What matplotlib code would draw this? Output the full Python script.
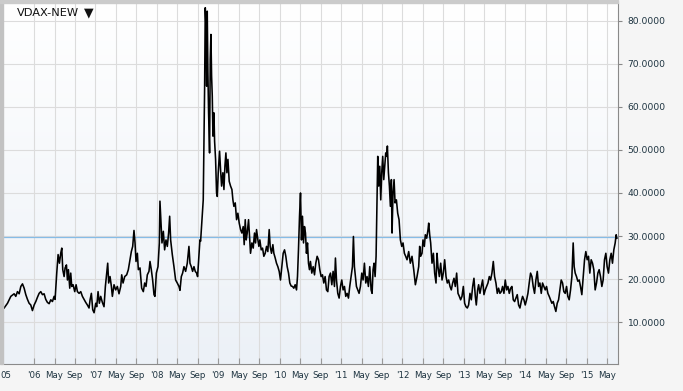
import numpy as np
import matplotlib.pyplot as plt
from matplotlib.patches import Rectangle
from matplotlib.colors import LinearSegmentedColormap

# VDAX-NEW readings (decimal year, index level)
d_2005 = [2005.512, 2005.567, 2005.621, 2005.675, 2005.702, 2005.729, 2005.757, 2005.784,
          2005.811, 2005.838, 2005.865, 2005.892, 2005.919, 2005.946, 2005.973]
v_2005 = [13.3, 14.4, 16.0, 16.6, 16.0, 17.1, 16.6, 18.3, 18.9, 17.9, 16.4, 15.3, 14.4, 14.0, 12.7]

d_2006 = [2006.001, 2006.028, 2006.055, 2006.082, 2006.109, 2006.136, 2006.163, 2006.190,
          2006.217, 2006.245, 2006.272, 2006.299, 2006.326, 2006.342, 2006.369, 2006.391,
          2006.413, 2006.434, 2006.451, 2006.467, 2006.489, 2006.505, 2006.527, 2006.543,
          2006.559, 2006.581, 2006.597, 2006.613, 2006.635, 2006.662, 2006.684, 2006.706,
          2006.733, 2006.760, 2006.787, 2006.814, 2006.841, 2006.868, 2006.895, 2006.912,
          2006.933, 2006.955, 2006.977]
v_2006 = [14.0, 14.8, 15.8, 16.7, 17.1, 16.4, 16.6, 15.3, 14.6, 14.3, 15.2, 14.8, 16.0, 15.3,
          21.4, 25.7, 23.7, 26.0, 27.2, 22.2, 20.6, 22.6, 23.3, 19.8, 22.2, 17.9, 21.4, 18.3,
          18.7, 17.1, 18.7, 17.1, 16.7, 17.1, 16.0, 15.3, 14.6, 14.0, 13.3, 15.2, 16.7, 12.9, 12.2]

d_2007 = [2007.004, 2007.020, 2007.042, 2007.063, 2007.085, 2007.112, 2007.139, 2007.161,
          2007.183, 2007.199, 2007.215, 2007.237, 2007.259, 2007.275, 2007.302, 2007.329,
          2007.356, 2007.383, 2007.411, 2007.427, 2007.449, 2007.476, 2007.508, 2007.535,
          2007.562, 2007.584, 2007.606, 2007.627, 2007.644, 2007.660, 2007.682, 2007.698,
          2007.725, 2007.752, 2007.779, 2007.801, 2007.823, 2007.844, 2007.871, 2007.888,
          2007.909, 2007.931, 2007.953, 2007.969, 2007.991]
v_2007 = [14.4, 13.6, 17.1, 14.4, 16.0, 14.6, 13.6, 18.3, 21.4, 23.7, 19.1, 20.6, 18.3, 16.0,
          18.7, 17.5, 18.3, 16.6, 18.3, 21.0, 19.1, 20.6, 21.0, 22.2, 24.5, 26.4, 27.6, 31.3,
          28.4, 24.1, 26.0, 22.2, 22.6, 17.9, 17.1, 19.1, 18.3, 21.0, 21.8, 24.1, 22.2, 19.8,
          16.4, 16.0, 21.4]

d_2008 = [2008.018, 2008.040, 2008.050, 2008.067, 2008.083, 2008.105, 2008.126, 2008.148,
          2008.170, 2008.191, 2008.208, 2008.224, 2008.251, 2008.278, 2008.305, 2008.332,
          2008.360, 2008.376, 2008.398, 2008.419, 2008.441, 2008.468, 2008.495, 2008.522,
          2008.539, 2008.560, 2008.582, 2008.604, 2008.625, 2008.647, 2008.663, 2008.685,
          2008.701, 2008.712, 2008.755, 2008.777, 2008.788, 2008.799, 2008.810, 2008.820,
          2008.831, 2008.842, 2008.858, 2008.869, 2008.880, 2008.891, 2008.902, 2008.913,
          2008.929, 2008.940, 2008.956, 2008.972, 2008.983, 2008.999]
v_2008 = [22.9, 28.4, 38.1, 33.0, 28.4, 31.1, 26.8, 29.1, 27.6, 30.7, 34.6, 29.1, 25.7, 22.9,
          19.8, 19.1, 18.3, 17.4, 20.6, 21.4, 22.9, 21.8, 23.7, 27.6, 23.7, 22.9, 21.8, 22.9,
          21.8, 21.4, 20.6, 25.3, 29.1, 28.8, 38.4, 64.0, 83.0, 78.8, 64.8, 82.2, 67.9, 58.6,
          49.3, 71.0, 76.8, 67.1, 62.5, 53.2, 58.6, 52.0, 47.8, 40.0, 39.2, 44.7]

d_2009 = [2009.021, 2009.037, 2009.054, 2009.075, 2009.092, 2009.108, 2009.124, 2009.140,
          2009.157, 2009.178, 2009.200, 2009.222, 2009.238, 2009.254, 2009.276, 2009.298,
          2009.319, 2009.341, 2009.363, 2009.384, 2009.406, 2009.422, 2009.439, 2009.455,
          2009.471, 2009.493, 2009.509, 2009.525, 2009.547, 2009.569, 2009.590, 2009.607,
          2009.623, 2009.645, 2009.661, 2009.677, 2009.699, 2009.721, 2009.742, 2009.764,
          2009.786, 2009.807, 2009.829, 2009.845, 2009.867, 2009.889, 2009.905, 2009.927,
          2009.948, 2009.970, 2009.992]
v_2009 = [49.7, 45.4, 41.6, 44.7, 40.8, 46.2, 49.3, 44.7, 47.8, 42.7, 41.6, 40.8, 38.4, 36.9,
          37.7, 33.8, 35.3, 33.0, 31.5, 30.7, 32.2, 28.0, 33.8, 29.1, 30.7, 33.8, 29.9, 26.0,
          28.4, 27.2, 30.7, 28.4, 31.5, 29.1, 27.6, 29.1, 26.8, 27.2, 25.3, 26.0, 27.6, 26.4,
          31.5, 27.6, 26.0, 28.0, 26.0, 24.9, 23.7, 22.9, 21.8]

d_2010 = [2010.013, 2010.035, 2010.057, 2010.079, 2010.100, 2010.122, 2010.144, 2010.165,
          2010.187, 2010.209, 2010.230, 2010.252, 2010.274, 2010.290, 2010.306, 2010.323,
          2010.339, 2010.355, 2010.371, 2010.388, 2010.404, 2010.420, 2010.436, 2010.453,
          2010.469, 2010.485, 2010.501, 2010.523, 2010.545, 2010.567, 2010.588, 2010.610,
          2010.632, 2010.653, 2010.675, 2010.697, 2010.718, 2010.740, 2010.762, 2010.784,
          2010.805, 2010.827, 2010.849, 2010.870, 2010.892, 2010.908, 2010.925, 2010.946,
          2010.968, 2010.990]
v_2010 = [19.8, 22.9, 26.0, 26.8, 25.3, 22.9, 21.4, 19.1, 18.4, 18.3, 17.9, 18.7, 17.5, 20.6,
          26.8, 34.6, 40.0, 29.1, 34.6, 28.4, 32.2, 30.7, 26.0, 28.4, 23.7, 22.2, 24.1, 21.4,
          22.9, 21.0, 23.7, 25.3, 24.5, 22.2, 20.6, 21.0, 19.1, 20.6, 17.5, 17.1, 20.6, 21.4,
          18.7, 21.8, 18.3, 24.9, 19.8, 16.7, 15.6, 18.3]

d_2011 = [2011.011, 2011.033, 2011.055, 2011.076, 2011.098, 2011.120, 2011.141, 2011.163,
          2011.185, 2011.201, 2011.217, 2011.234, 2011.250, 2011.272, 2011.293, 2011.315,
          2011.337, 2011.358, 2011.380, 2011.402, 2011.423, 2011.445, 2011.467, 2011.489,
          2011.505, 2011.521, 2011.537, 2011.554, 2011.570, 2011.581, 2011.597, 2011.613,
          2011.630, 2011.646, 2011.662, 2011.678, 2011.695, 2011.711, 2011.727, 2011.743,
          2011.754, 2011.771, 2011.787, 2011.803, 2011.819, 2011.830, 2011.846, 2011.863,
          2011.879, 2011.901, 2011.922, 2011.944, 2011.966, 2011.988]
v_2011 = [19.8, 17.5, 18.3, 16.0, 16.7, 15.6, 18.3, 20.6, 22.9, 29.9, 22.9, 20.6, 18.3, 17.5,
          16.7, 18.3, 21.4, 19.8, 23.7, 19.1, 20.6, 18.3, 22.9, 17.5, 16.7, 22.2, 23.7, 20.6,
          25.3, 34.6, 48.5, 41.6, 46.2, 38.4, 44.7, 48.5, 43.1, 46.2, 49.3, 48.5, 50.9, 44.7,
          41.6, 36.9, 43.1, 30.7, 40.0, 43.1, 37.7, 38.4, 35.3, 33.8, 29.1, 27.6]

d_2012 = [2012.009, 2012.031, 2012.052, 2012.074, 2012.101, 2012.128, 2012.155, 2012.183,
          2012.210, 2012.237, 2012.264, 2012.280, 2012.296, 2012.318, 2012.334, 2012.356,
          2012.372, 2012.394, 2012.416, 2012.427, 2012.443, 2012.459, 2012.481, 2012.503,
          2012.524, 2012.546, 2012.562, 2012.578, 2012.600, 2012.622, 2012.644, 2012.665,
          2012.687, 2012.709, 2012.730, 2012.752, 2012.774, 2012.795, 2012.817, 2012.839,
          2012.860, 2012.882, 2012.904, 2012.926, 2012.947, 2012.969, 2012.991]
v_2012 = [28.4, 26.0, 25.3, 24.5, 26.4, 23.7, 25.3, 22.2, 18.7, 20.6, 22.9, 27.6, 25.3, 26.0,
          29.1, 27.6, 30.3, 29.5, 31.5, 33.0, 30.3, 28.4, 23.7, 26.0, 21.4, 19.1, 26.0, 22.9,
          20.6, 23.7, 19.8, 21.4, 24.5, 20.6, 19.1, 19.8, 18.3, 17.5, 19.1, 20.2, 18.3, 21.4,
          16.7, 16.0, 15.2, 16.0, 18.3]

d_2013 = [2013.012, 2013.034, 2013.056, 2013.077, 2013.099, 2013.121, 2013.143, 2013.164,
          2013.186, 2013.202, 2013.224, 2013.240, 2013.262, 2013.283, 2013.305, 2013.327,
          2013.348, 2013.370, 2013.392, 2013.414, 2013.435, 2013.457, 2013.479, 2013.500,
          2013.522, 2013.544, 2013.565, 2013.587, 2013.609, 2013.630, 2013.652, 2013.674,
          2013.696, 2013.717, 2013.739, 2013.761, 2013.782, 2013.804, 2013.826, 2013.847,
          2013.869, 2013.891, 2013.913, 2013.934, 2013.956, 2013.978, 2013.999]
v_2013 = [14.4, 13.6, 13.3, 14.0, 16.7, 15.2, 18.3, 20.2, 16.0, 14.0, 17.5, 18.7, 16.7, 18.3,
          19.8, 16.4, 17.5, 18.3, 19.1, 20.6, 19.8, 21.4, 24.1, 20.6, 19.1, 16.7, 17.9, 16.7,
          17.1, 18.3, 16.7, 19.8, 17.5, 18.3, 16.7, 17.9, 18.3, 15.2, 14.8, 15.6, 16.4, 14.0,
          13.3, 14.8, 16.0, 15.2, 14.0]

d_2014 = [2014.021, 2014.043, 2014.064, 2014.086, 2014.108, 2014.129, 2014.151, 2014.173,
          2014.195, 2014.216, 2014.238, 2014.260, 2014.281, 2014.303, 2014.325, 2014.346,
          2014.368, 2014.390, 2014.411, 2014.433, 2014.455, 2014.476, 2014.498, 2014.520,
          2014.542, 2014.563, 2014.585, 2014.607, 2014.628, 2014.650, 2014.672, 2014.693,
          2014.715, 2014.737, 2014.759, 2014.780, 2014.796, 2014.813, 2014.834, 2014.856,
          2014.878, 2014.899, 2014.921, 2014.943, 2014.965, 2014.986]
v_2014 = [15.2, 16.7, 19.1, 21.4, 20.6, 18.3, 16.7, 19.8, 21.8, 18.3, 19.1, 16.7, 19.1, 18.3,
          17.5, 18.3, 16.7, 16.0, 15.2, 14.4, 14.8, 13.6, 12.5, 14.4, 15.2, 17.5, 19.8, 19.1,
          17.1, 16.7, 18.3, 16.0, 15.2, 17.5, 20.6, 28.4, 22.9, 21.4, 20.6, 19.5, 19.8, 18.3,
          16.4, 20.6, 24.5, 26.4]

d_2015 = [2015.008, 2015.030, 2015.051, 2015.073, 2015.095, 2015.116, 2015.138, 2015.160,
          2015.182, 2015.203, 2015.225, 2015.247, 2015.268, 2015.290, 2015.312, 2015.333,
          2015.355, 2015.377, 2015.399, 2015.420, 2015.442, 2015.464, 2015.480, 2015.491]
v_2015 = [24.5, 25.3, 21.4, 24.5, 23.7, 22.2, 17.5, 19.1, 21.4, 22.2, 20.6, 18.3, 19.8, 24.5,
          26.0, 22.9, 21.4, 24.5, 26.0, 23.7, 26.8, 28.4, 30.3, 29.5]

last_level = 29.8
y_ticks = [10, 20, 30, 40, 50, 60, 70, 80]

dates = np.concatenate([d_2005, d_2006, d_2007, d_2008, d_2009, d_2010,
                        d_2011, d_2012, d_2013, d_2014, d_2015])
vdax = np.concatenate([v_2005, v_2006, v_2007, v_2008, v_2009, v_2010,
                       v_2011, v_2012, v_2013, v_2014, v_2015])
assert len(dates) == len(vdax)

# x ticks every 4 months: year, May, Sep
x_ticks = [2006 + k / 3 for k in range(29)]
x_labels = []
for k in range(29):
    if k % 3 == 0:
        x_labels.append("'%02d" % ((6 + k // 3) % 100))
    elif k % 3 == 1:
        x_labels.append('May')
    else:
        x_labels.append('Sep')

W, H = 683, 391
fig = plt.figure(figsize=(W / 100, H / 100), dpi=100, facecolor='#f5f5f5')
ax = fig.add_axes([4 / W, 1 - 364 / H, 614 / W, 361 / H])

# soft vertical gradient behind the plot
cmap = LinearSegmentedColormap.from_list('bg', ['#ffffff', '#ecf1f7'])
ax.imshow(np.linspace(0, 1, 256).reshape(-1, 1), extent=[0, 1, 0, 1], transform=ax.transAxes,
          cmap=cmap, aspect='auto', zorder=0)

ax.axhline(last_level, color='#86bce6', lw=0.9, zorder=1)
ax.plot(dates, vdax, color='black', lw=1.15, zorder=2)

ax.set_xlim(2005.51, 2015.51)
ax.set_ylim(0.3, 84.1)

ax.set_xticks(x_ticks)
ax.set_xticklabels(x_labels)
ax.yaxis.tick_right()
ax.set_yticks(y_ticks)
ax.set_yticklabels(['%.4f' % v for v in y_ticks])
ax.grid(True, color='#dcdcdc', lw=0.8)
ax.set_axisbelow(True)

ax.tick_params(axis='x', direction='in', length=4, color='#999999', labelsize=6.2,
               labelcolor='#1d3340', pad=5)
ax.tick_params(axis='y', direction='out', length=3, color='#888888', labelsize=6.6,
               labelcolor='#1d3340', pad=4)

for side in ['left', 'top']:
    ax.spines[side].set_visible(False)
for side in ['right', 'bottom']:
    ax.spines[side].set_color('#8a8a8a')
    ax.spines[side].set_linewidth(0.8)

# panel shadow on left and top
fig.add_artist(Rectangle((0, 1 - 364 / H), 3 / W, 364 / H, transform=fig.transFigure,
                         color='#c2c2c2', zorder=5))
fig.add_artist(Rectangle((0, 1 - 3 / H), 618 / W, 3 / H, transform=fig.transFigure,
                         color='#cbcbcb', zorder=5))

fig.text(17 / W, 1 - 12.5 / H, 'VDAX-NEW', fontsize=8.2, va='center', color='#111111')
fig.text(89 / W, 1 - 12.5 / H, '\u25bc', fontsize=9, va='center', ha='center', color='#111111')
# first year label, only its tail is visible at the left edge
fig.text(0.5 / W, 1 - 375 / H, "05", fontsize=6.2, va='center', ha='left', color='#1d3340')

fig.savefig('out.png', dpi=100, facecolor=fig.get_facecolor())
